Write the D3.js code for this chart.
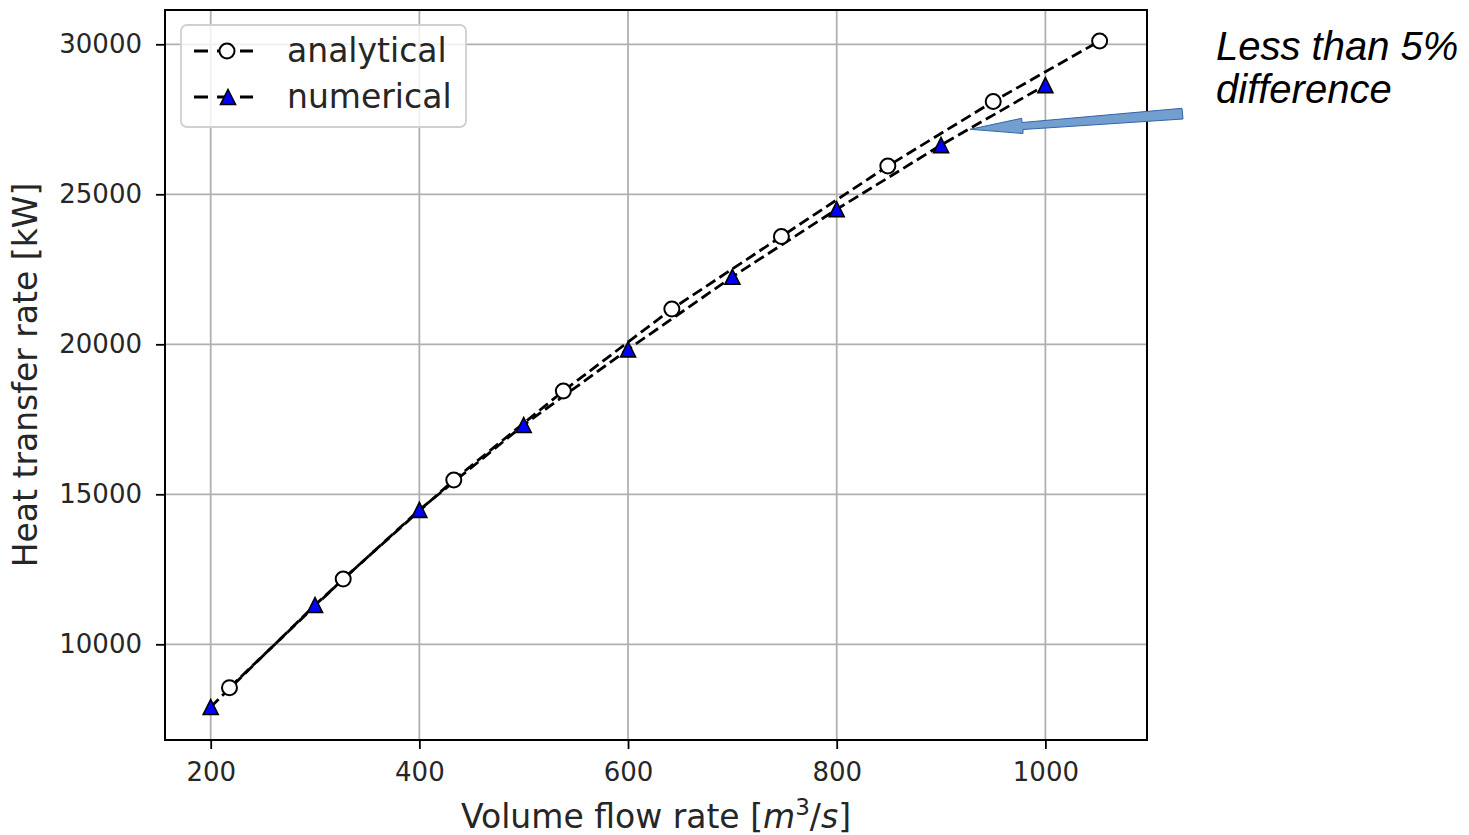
<!DOCTYPE html>
<html>
<head>
<meta charset="utf-8">
<script src="https://cdn.jsdelivr.net/npm/d3@7"></script>
<style>
  html, body { margin: 0; padding: 0; background: #fff; }
  svg { display: block; }
</style>
</head>
<body>
<svg id="chart" width="1469" height="835"></svg>
<script>
// Volume flow rate [m^3/s] and heat transfer rate [kW]
const analyticalFlow = [218, 327, 433, 538, 642, 747, 849, 950, 1052];
const analyticalHeat = [8553, 12177, 15477, 18443, 21177, 23593, 25943, 28093, 30110];
const numericalFlow  = [200, 300, 400, 500, 600, 700, 800, 900, 1000];
const numericalHeat  = [7910, 11310, 14480, 17310, 19830, 22250, 24500, 26640, 28640];

const xTicks = [200, 400, 600, 800, 1000];
const yTicks = [10000, 15000, 20000, 25000, 30000];
const xDomain = [156.2, 1097.4];
const yDomain = [6810, 31143];

const seriesNames = ["analytical", "numerical"];
const noteLines = ["Less than 5%", "difference"];

const svg = d3.select("#chart");
const plot = { left: 165, right: 1147, top: 10, bottom: 740 };

const x = d3.scaleLinear().domain(xDomain).range([plot.left, plot.right]);
const y = d3.scaleLinear().domain(yDomain).range([plot.bottom, plot.top]);

const FONT = "'DejaVu Sans', sans-serif";

// grid
const grid = svg.append("g").attr("stroke", "#b0b0b0").attr("stroke-width", 1.8);
grid.selectAll(".gx").data(xTicks).join("line")
  .attr("x1", d => x(d)).attr("x2", d => x(d))
  .attr("y1", plot.top).attr("y2", plot.bottom);
grid.selectAll(".gy").data(yTicks).join("line")
  .attr("y1", d => y(d)).attr("y2", d => y(d))
  .attr("x1", plot.left).attr("x2", plot.right);

// axes
const xAxis = d3.axisBottom(x).tickValues(xTicks).tickSize(9).tickPadding(14).tickFormat(d3.format("d"));
const yAxis = d3.axisLeft(y).tickValues(yTicks).tickSize(9).tickPadding(14).tickFormat(d3.format("d"));

const gx = svg.append("g").attr("transform", `translate(0,${plot.bottom})`).call(xAxis);
const gy = svg.append("g").attr("transform", `translate(${plot.left},0)`).call(yAxis);
[gx, gy].forEach(g => {
  g.select(".domain").remove();
  g.selectAll(".tick line").attr("stroke", "#000").attr("stroke-width", 1.8);
  g.selectAll(".tick text").attr("fill", "#262626")
    .style("font-family", FONT).style("font-size", "26px");
});

// frame
svg.append("rect")
  .attr("x", plot.left).attr("y", plot.top)
  .attr("width", plot.right - plot.left).attr("height", plot.bottom - plot.top)
  .attr("fill", "none").attr("stroke", "#000").attr("stroke-width", 2);

// series lines
const lineGen = d3.line().x(d => x(d[0])).y(d => y(d[1]));
const analytical = analyticalFlow.map((v, i) => [v, analyticalHeat[i]]);
const numerical = numericalFlow.map((v, i) => [v, numericalHeat[i]]);

const DASH = "11,5";
svg.append("path").datum(analytical).attr("d", lineGen)
  .attr("fill", "none").attr("stroke", "#000").attr("stroke-width", 2.8).attr("stroke-dasharray", DASH);
svg.append("path").datum(numerical).attr("d", lineGen)
  .attr("fill", "none").attr("stroke", "#000").attr("stroke-width", 2.8).attr("stroke-dasharray", DASH);

// markers
const tri = s => `M0,${-s}L${s},${s}L${-s},${s}Z`;
svg.append("g").selectAll("circle").data(analytical).join("circle")
  .attr("cx", d => x(d[0])).attr("cy", d => y(d[1])).attr("r", 7.5)
  .attr("fill", "#fff").attr("stroke", "#000").attr("stroke-width", 2);
svg.append("g").selectAll("path").data(numerical).join("path")
  .attr("transform", d => `translate(${x(d[0])},${y(d[1])})`)
  .attr("d", tri(7.5))
  .attr("fill", "#0000ff").attr("stroke", "#000").attr("stroke-width", 1.6)
  .attr("stroke-linejoin", "miter");

// legend
const lg = svg.append("g");
lg.append("rect").attr("x", 181).attr("y", 25).attr("width", 285).attr("height", 102).attr("rx", 6)
  .attr("fill", "#fff").attr("fill-opacity", 0.8).attr("stroke", "#d0d0d0").attr("stroke-width", 1.8);
const rows = [{ y: 51, kind: "circle" }, { y: 97, kind: "tri" }];
rows.forEach((r, i) => {
  lg.append("line").attr("x1", 194).attr("x2", 253).attr("y1", r.y).attr("y2", r.y)
    .attr("stroke", "#000").attr("stroke-width", 2.8).attr("stroke-dasharray", "14,9");
  if (r.kind === "circle") {
    lg.append("circle").attr("cx", 227).attr("cy", r.y).attr("r", 7.5)
      .attr("fill", "#fff").attr("stroke", "#000").attr("stroke-width", 2);
  } else {
    lg.append("path").attr("transform", `translate(228,${r.y})`).attr("d", tri(7.5))
      .attr("fill", "#0000ff").attr("stroke", "#000").attr("stroke-width", 1.6);
  }
  lg.append("text").attr("x", 287).attr("y", r.y + 11)
    .attr("fill", "#262626").style("font-family", FONT).style("font-size", "33px")
    .text(seriesNames[i]);
});

// axis titles
const xl = svg.append("text").attr("x", (plot.left + plot.right) / 2).attr("y", 828)
  .attr("text-anchor", "middle").attr("fill", "#262626")
  .style("font-family", FONT).style("font-size", "33px");
xl.append("tspan").text("Volume flow rate [");
xl.append("tspan").attr("font-style", "italic").text("m");
xl.append("tspan").attr("dy", -13).style("font-size", "23px").text("3");
xl.append("tspan").attr("dy", 13).text("/");
xl.append("tspan").attr("font-style", "italic").text("s");
xl.append("tspan").text("]");

svg.append("text")
  .attr("transform", `translate(37,${(plot.top + plot.bottom) / 2}) rotate(-90)`)
  .attr("text-anchor", "middle").attr("fill", "#262626")
  .style("font-family", FONT).style("font-size", "33px")
  .text("Heat transfer rate [kW]");

// annotation arrow pointing at the gap between the two curves
const arrowPts = [[1182, 108.3], [1022, 122.5], [1021.7, 118.3], [970, 129.3],
                  [1023, 133.5], [1023, 129.5], [1183, 119]];
svg.append("path")
  .attr("d", d3.line()(arrowPts) + "Z")
  .attr("fill", "#729fcf").attr("stroke", "#3465a4").attr("stroke-width", 1);

const note = svg.append("text").attr("fill", "#000")
  .style("font-family", "'Liberation Sans', Arial, sans-serif")
  .style("font-style", "italic").style("font-size", "40px");
noteLines.forEach((t, i) => {
  note.append("tspan").attr("x", 1216).attr("y", 60 + i * 43).text(t);
});
</script>
</body>
</html>
